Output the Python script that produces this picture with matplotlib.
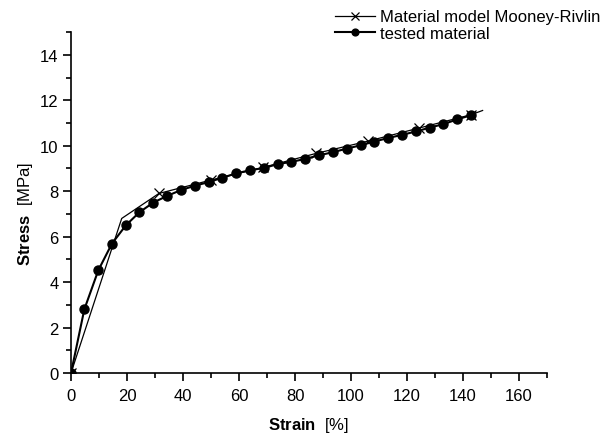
import matplotlib
matplotlib.use("Agg")
import matplotlib.pyplot as plt
from matplotlib.ticker import MultipleLocator

plt.rcParams['font.family'] = ['Liberation Sans', 'DejaVu Sans']
plt.rcParams['mathtext.fontset'] = 'custom'
plt.rcParams['mathtext.rm'] = 'Liberation Sans'
plt.rcParams['mathtext.bf'] = 'Liberation Sans:bold'

# tested material
test_strain = [0, 4.75, 9.75, 14.6, 19.6, 24.4, 29.4, 34.3, 39.3, 44.2, 49.2, 54.0,
               58.9, 63.9, 68.9, 73.8, 78.7, 83.7, 88.6, 93.4, 98.4, 103.5, 108.2,
               113.3, 118.3, 123.3, 128.2, 133.0, 138.0, 143.0]
test_stress = [0, 2.8, 4.52, 5.69, 6.5, 7.07, 7.5, 7.79, 8.05, 8.24, 8.4, 8.59,
               8.78, 8.92, 9.02, 9.19, 9.29, 9.42, 9.58, 9.71, 9.87, 10.02, 10.18,
               10.34, 10.48, 10.63, 10.8, 10.95, 11.16, 11.35]

# Mooney-Rivlin model
mr_strain = [0, 18.1, 31.4, 50.0, 68.7, 87.5, 106.0, 124.4, 142.8, 147.0]
mr_stress = [0, 6.8, 7.9, 8.49, 9.05, 9.66, 10.2, 10.78, 11.36, 11.55]
mr_marks = [0, 2, 3, 4, 5, 6, 7, 8]

fig = plt.figure(figsize=(6.16, 4.35), dpi=100)
ax = fig.add_axes([0.1153, 0.1402, 0.888 - 0.1153, 0.924 - 0.1402])

l1, = ax.plot(mr_strain, mr_stress, color='black', lw=0.9, marker='x', ms=7,
              mew=0.9, markevery=mr_marks, label='Material model Mooney-Rivlin')
l2, = ax.plot(test_strain, test_stress, color='black', lw=1.5, marker='o', ms=6.5,
              label='tested material')

ax.set_xlim(0, 170)
ax.set_ylim(0, 15)
ax.xaxis.set_major_locator(MultipleLocator(20))
ax.xaxis.set_minor_locator(MultipleLocator(10))
ax.yaxis.set_major_locator(MultipleLocator(2))
ax.yaxis.set_minor_locator(MultipleLocator(1))
for s in ['top', 'right']:
    ax.spines[s].set_visible(False)
for s in ['left', 'bottom']:
    ax.spines[s].set_linewidth(1.2)
ax.tick_params(which='major', direction='out', length=6, width=1.2, labelsize=12,
               pad=3)
ax.tick_params(axis='x', which='major', pad=5)
ax.tick_params(which='minor', direction='out', length=3.5, width=1.2)

ax.set_xlabel(r'$\mathbf{Strain}$  [%]', fontsize=12)
ax.set_ylabel(r'$\mathbf{Stress}$  [MPa]', fontsize=12)
ax.xaxis.set_label_coords(0.5, -0.122)
ax.yaxis.set_label_coords(-0.075, 0.47)

fig.legend(handles=[l1, l2], loc='upper left', bbox_to_anchor=(0.527, 0.999),
           frameon=False, fontsize=12, handlelength=2.4, handletextpad=0.3,
           labelspacing=0.1, borderaxespad=0.2, markerscale=0.75)

fig.savefig('out.png', dpi=100)
